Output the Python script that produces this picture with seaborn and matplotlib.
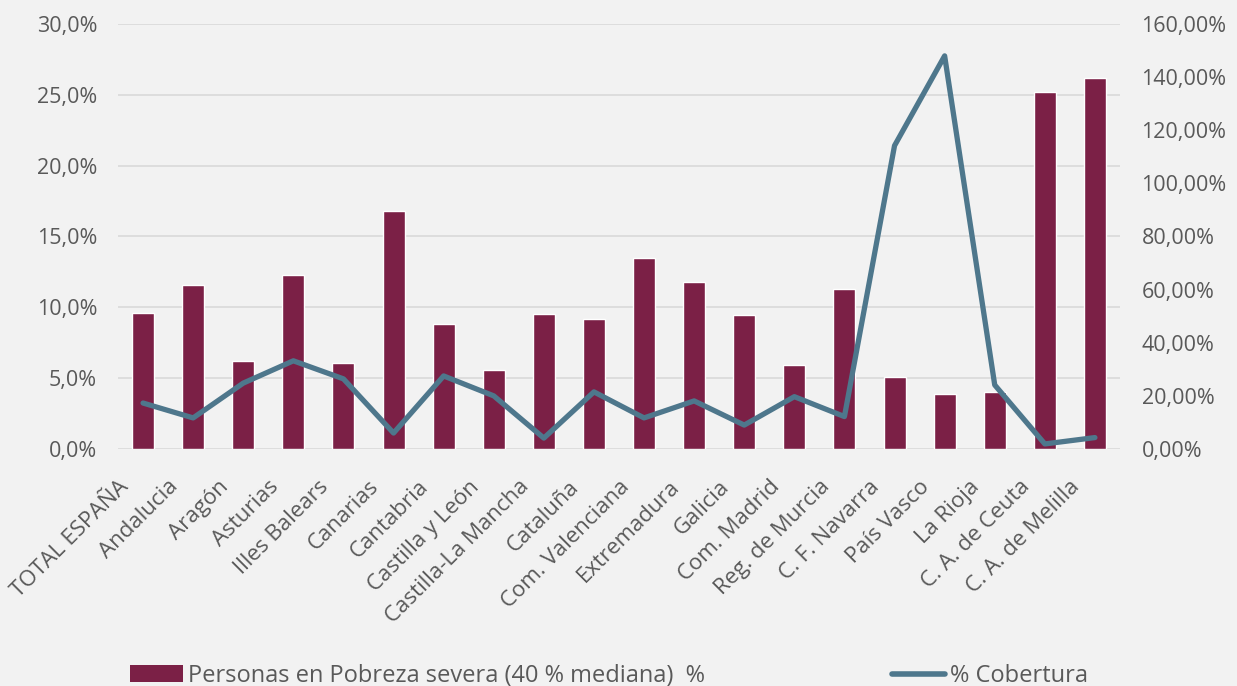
import matplotlib
matplotlib.use("Agg")
import matplotlib.pyplot as plt
import matplotlib.transforms as mtransforms
import seaborn as sns
from matplotlib.ticker import FuncFormatter, MultipleLocator
from matplotlib.lines import Line2D
from matplotlib.patches import Patch

# Data
regiones = ["TOTAL ESPAÑA", "Andalucia", "Aragón", "Asturias", "Illes Balears",
            "Canarias", "Cantabria", "Castilla y León", "Castilla-La Mancha",
            "Cataluña", "Com. Valenciana", "Extremadura", "Galicia", "Com. Madrid",
            "Reg. de Murcia", "C. F. Navarra", "País Vasco", "La Rioja",
            "C. A. de Ceuta", "C. A. de Melilla"]
pobreza_severa = [9.6, 11.6, 6.2, 12.3, 6.1, 16.8, 8.8, 5.6, 9.5, 9.2,
                  13.5, 11.8, 9.45, 5.9, 11.3, 5.1, 3.9, 4.0, 25.2, 26.2]
cobertura = [17.3, 11.7, 24.8, 33.2, 26.4, 6.0, 27.5, 20.0, 4.1, 21.5,
             11.7, 18.1, 9.0, 19.7, 12.2, 114.2, 148.0, 24.1, 1.9, 4.3]

bar_label = "Personas en Pobreza severa (40 % mediana)  %"
line_label = "% Cobertura"

bar_color = "#7b2046"
line_color = "#4e778c"
text_color = "#595959"
bg = "#f2f2f2"

sns.set_style("white")
plt.rcParams["font.family"] = ["Open Sans", "DejaVu Sans"]

fig = plt.figure(figsize=(12.37, 6.86), dpi=100, facecolor=bg)
ax = fig.add_axes([0.0954, 0.3455, 0.81, 0.6195])
ax.set_facecolor(bg)

sns.barplot(x=regiones, y=pobreza_severa, color=bar_color, width=0.44,
            saturation=1, ax=ax, zorder=2)
ax.set_ylim(0, 30)
ax.yaxis.set_major_locator(MultipleLocator(5))
ax.yaxis.set_major_formatter(FuncFormatter(lambda v, p: f"{v:.1f}%".replace(".", ",")))
ax.grid(axis="y", color="#d9d9d9", linewidth=1.2, zorder=0)
ax.set_axisbelow(True)
ax.set_xlim(-0.5, len(regiones) - 0.5)

ax2 = ax.twinx()
sns.lineplot(x=regiones, y=cobertura, sort=False, color=line_color,
             linewidth=3.8, ax=ax2, solid_capstyle="round", solid_joinstyle="round")
ax2.set_ylim(0, 160)
ax2.yaxis.set_major_locator(MultipleLocator(20))
ax2.yaxis.set_major_formatter(FuncFormatter(lambda v, p: f"{v:.2f}%".replace(".", ",")))

for a in (ax, ax2):
    for s in a.spines.values():
        s.set_visible(False)
    a.tick_params(length=0, colors=text_color, labelsize=15.5)
    a.set_xlabel("")
    a.set_ylabel("")

ax.tick_params(axis="y", pad=15)
ax2.tick_params(axis="y", pad=15.5)
ax.set_xticks(range(len(regiones)))
ax.set_xticklabels(regiones, rotation=45, ha="right", va="center",
                   rotation_mode="anchor", fontsize=16, color=text_color)
ax.tick_params(axis="x", pad=25)
shift = mtransforms.ScaledTranslation(-18 / 100, 0, fig.dpi_scale_trans)
for lbl in ax.get_xticklabels():
    lbl.set_transform(lbl.get_transform() + shift)

handles = [Patch(facecolor=bar_color, edgecolor="none"),
           Line2D([0], [0], color=line_color, linewidth=4, solid_capstyle="round")]
fig.legend(handles, [bar_label, line_label], loc="center left",
           bbox_to_anchor=(0.105, 0.0146), ncol=2, frameon=False,
           fontsize=17, labelcolor=text_color, handlelength=2.25,
           handletextpad=0.22, columnspacing=7.9, borderpad=0, borderaxespad=0)

fig.savefig("out.png", dpi=100, facecolor=bg)
